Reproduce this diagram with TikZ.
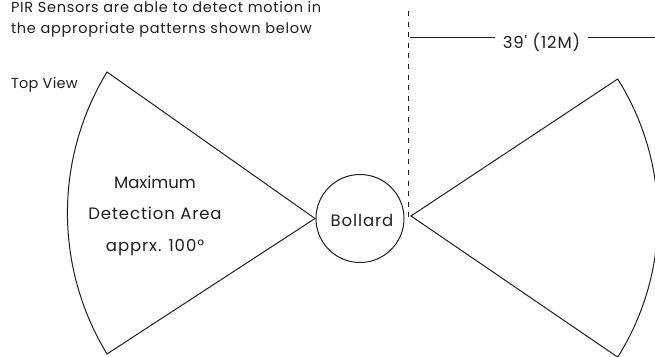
\documentclass[tikz,border=0pt]{standalone}
\usepackage{fontspec}
\setmainfont{Poppins}
\newfontfamily\bigspaced[LetterSpace=5.5]{Poppins}
\newfontfamily\bigplain{Poppins}
\newfontfamily\smallspaced[LetterSpace=5]{Poppins}
\newfontfamily\smallnarrow[LetterSpace=2]{Poppins}
\definecolor{ink}{HTML}{1E1E1E}
\tikzset{
  x=1pt,y=-1pt,
  lbl/.style={inner sep=0pt,outer sep=0pt,text=ink,anchor=base,font=\bigspaced\fontsize{16.5}{18}\selectfont},
  lblplain/.style={lbl,font=\bigplain\fontsize{16.5}{18}\selectfont},
  smalltxt/.style={inner sep=0pt,outer sep=0pt,text=ink,anchor=base west,font=\smallspaced\fontsize{14.5}{16}\selectfont},
  smalltop/.style={smalltxt,font=\smallnarrow\fontsize{14.5}{16}\selectfont},
  wedge/.style={draw=ink,line width=1pt,line join=miter},
  guide/.style={draw=ink,line width=1pt},
  dash guide/.style={draw=ink,line width=1pt,dash pattern=on 5pt off 5.6pt},
}
\begin{document}
\begin{tikzpicture}
\useasboundingbox (0,0) rectangle (655,356);
\clip (0,0) rectangle (655,356);
% left wedge
\coordinate (la) at (315,218.5);
\coordinate (lt) at (107,72);
\draw[wedge] (la) -- (lt) arc[start angle=-148.65,end angle=-211.35,radius=271] -- cycle;
% right wedge
\coordinate (ra) at (411,216);
\coordinate (rt) at (617.7,79);
\draw[wedge] (ra) -- (rt) arc[start angle=-32.2,end angle=32.2,radius=261] -- cycle;
% bollard
\node[circle,draw=ink,line width=1pt,minimum size=88pt,inner sep=0pt] (boll) at (360,218.5) {};
\node[lbl] (bolltxt) at (362,226) {Bollard};
% dashed
\coordinate (dt) at (408.5,11);
\coordinate (db) at (408.5,219);
\draw[dash guide] (dt) -- (db);
% dimension
\node[lbl] (dim) at (541.5,48) {39' (12M)};
\coordinate (dl) at (410,37);
\coordinate (dlr) at (495,37);
\coordinate (drl) at (588,37);
\coordinate (dr) at (655,37);
\draw[guide] (dl) -- (dlr);
\draw[guide] (drl) -- (dr);
% text
\node[smalltxt] (t1) at (11,12.6) {PIR Sensors are able to detect motion in};
\node[smalltxt] (t2) at (11,33.3) {the appropriate patterns shown below};
\node[smalltop] (t3) at (11,88.3) {Top View};
\node[lblplain] (m1) at (155,188) {Maximum};
\node[lbl] (m2) at (155,219.5) {Detection Area};
\node[lbl] (m3) at (155,251) {apprx. 100°};
\end{tikzpicture}
\end{document}
